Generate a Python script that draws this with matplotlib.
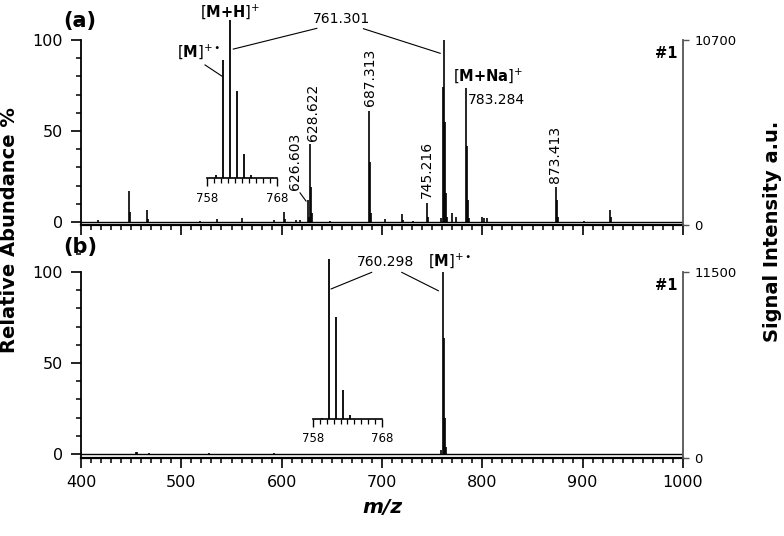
import matplotlib.pyplot as plt
from matplotlib.ticker import MultipleLocator

# ── spectrum (a): m/z and relative abundance ──────────────────────────────
mz_a = [417.3, 448.2, 449.2, 466.1, 467.1, 518.6, 535.3, 560.2, 592.4,
        602.4, 603.4, 614.4, 618.4, 626.6, 627.6, 628.6, 629.6, 630.6,
        648.0, 687.3, 688.3, 689.3, 703.1, 719.7, 720.7, 731.0, 745.2,
        746.2, 759.3, 760.3, 761.3, 762.3, 763.3, 764.3, 769.6, 773.9,
        783.3, 784.3, 785.3, 786.3, 799.5, 801.8, 805.1, 873.4, 874.4,
        875.4, 901.5, 927.4, 928.4]
ab_a = [1.0, 17.2, 5.7, 6.6, 1.5, 0.5, 1.6, 2.2, 1.3,
        5.5, 1.5, 1.0, 1.0, 12.0, 3.0, 43.0, 19.4, 5.0,
        0.5, 61.0, 33.0, 5.0, 1.5, 4.4, 1.0, 0.8, 10.3,
        3.0, 2.0, 74.4, 100.0, 55.0, 16.0, 3.0, 5.0, 3.0,
        73.4, 42.0, 12.0, 2.0, 3.0, 2.0, 2.0, 19.0, 12.0,
        3.0, 0.5, 6.6, 3.0]

# ── spectrum (b) ──────────────────────────────────────────────────────────
mz_b = [455.0, 456.0, 468.0, 528.0, 592.4, 759.3, 760.3, 761.3, 762.3, 763.3]
ab_b = [1.2, 1.0, 0.6, 0.5, 0.8, 2.0, 100.0, 64.0, 20.0, 4.0]

# ── isotope clusters shown in the insets ──────────────────────────────────
iso_mz_a = [759.3, 760.3, 761.3, 762.3, 763.3, 764.3]
iso_ab_a = [2.0, 74.5, 100.0, 55.0, 15.0, 2.0]
iso_mz_b = [759.3, 760.3, 761.3, 762.3, 763.3]
iso_ab_b = [0.5, 100.0, 64.0, 18.0, 2.5]

full_scale = [10700, 11500]

W, H = 784, 536
fig = plt.figure(figsize=(W / 100, H / 100), dpi=100)


def rect(x0, x1, ytop, ybot):
    return [x0 / W, 1 - ybot / H, (x1 - x0) / W, (ybot - ytop) / H]


def setup_panel(ax, ylo, yhi, scale, show_xlabels):
    ax.set_xlim(400, 1000)
    ax.set_ylim(ylo, yhi)
    ax.patch.set_visible(False)
    for s in ['top', 'right']:
        ax.spines[s].set_visible(False)
    ax.spines['left'].set_bounds(ylo, 100)
    ax.spines['left'].set_linewidth(1.3)
    ax.spines['bottom'].set_linewidth(1.6)
    ax.set_yticks([0, 50, 100])
    ax.yaxis.set_minor_locator(MultipleLocator(10))
    ax.xaxis.set_major_locator(MultipleLocator(100))
    ax.xaxis.set_minor_locator(MultipleLocator(10))
    ax.tick_params(which='major', direction='out', length=7, width=1.2,
                   labelsize=11.5, pad=5)
    ax.tick_params(which='minor', direction='out', length=3.5, width=1.1)
    ax.tick_params(axis='y', which='major', pad=6)
    if not show_xlabels:
        ax.tick_params(axis='x', labelbottom=False)

    # right axis with absolute signal intensity
    axr = ax.twinx()
    axr.set_ylim(0, scale * (yhi - ylo) / (100 - ylo))
    for s in ['top', 'left', 'bottom']:
        axr.spines[s].set_visible(False)
    axr.spines['right'].set_bounds(0, scale)
    axr.spines['right'].set_color('#555555')
    axr.spines['right'].set_linewidth(1.3)
    axr.set_yticks([0, scale])
    axr.tick_params(direction='out', length=4, width=1.0, color='#555555',
                    labelsize=9.5, pad=4)


def inset(ax, x0, y0, w, h, mz, ab):
    ins = ax.inset_axes([x0, y0, w, h], transform=ax.transData)
    ins.set_xlim(758, 768)
    ins.set_ylim(0, 100)
    ins.patch.set_visible(False)
    for s in ['top', 'right', 'left']:
        ins.spines[s].set_visible(False)
    ins.spines['bottom'].set_linewidth(1.2)
    ins.set_yticks([])
    ins.set_xticks([758, 768])
    ins.xaxis.set_minor_locator(MultipleLocator(1))
    ins.tick_params(which='major', direction='out', length=6, width=1.0,
                    labelsize=8.5, pad=4)
    ins.tick_params(which='minor', direction='out', length=3.5, width=0.9)
    ins.vlines(mz, 0, ab, color='black', lw=1.3, clip_on=False)
    return ins


# ── panel (a) ─────────────────────────────────────────────────────────────
ylo_a, yhi_a = -1.8, 115
ax_a = fig.add_axes(rect(81, 683, 40 - 15 * 1.82, 222 + 1.8 * 1.82))
setup_panel(ax_a, ylo_a, yhi_a, full_scale[0], False)
ax_a.plot([400, 1000], [0, 0], color='black', lw=1.0)
ax_a.vlines(mz_a, 0, ab_a, color='black', lw=1.2)
inset(ax_a, 525.9, 24.2, 69.8, 86.8, iso_mz_a, iso_ab_a)

fs = 10
for txt, x, y in [('626.603', 613.4, 17.6), ('628.622', 631.6, 44.5),
                  ('687.313', 688.0, 63.5), ('745.216', 744.6, 13.0),
                  ('873.413', 872.6, 21.6)]:
    ax_a.text(x, y, txt, rotation=90, ha='center', va='bottom', fontsize=fs)
ax_a.plot([618.3, 624.3], [16.0, 11.5], color='black', lw=0.8)
ax_a.text(785.2, 67, '783.284', ha='left', va='center', fontsize=fs)
ax_a.text(770.5, 80.5, r'[$\mathbf{M{+}Na}$]$^{+}$', ha='left', va='center',
          fontsize=10.5)
ax_a.text(659.9, 111.5, '761.301', ha='center', va='center', fontsize=fs)
ax_a.plot([635, 551.8], [106.4, 95], color='black', lw=0.8, clip_on=False)
ax_a.plot([681.5, 758], [106.2, 92.7], color='black', lw=0.8, clip_on=False)
ax_a.text(548.6, 115.4, r'[$\mathbf{M{+}H}$]$^{+}$', ha='center',
          va='center', fontsize=10.5)
ax_a.text(517, 93.4, r'[$\mathbf{M}$]$^{+\bullet}$', ha='center',
          va='center', fontsize=10.5)
ax_a.plot([523.6, 540.3], [86.3, 80.2], color='black', lw=0.8)

# ── panel (b) ─────────────────────────────────────────────────────────────
ylo_b, yhi_b = -2.2, 115
ax_b = fig.add_axes(rect(81, 683, 272 - 15 * 1.82, 454 + 2.2 * 1.82))
setup_panel(ax_b, ylo_b, yhi_b, full_scale[1], True)
ax_b.plot([400, 1000], [0, 0], color='black', lw=1.0)
ax_b.vlines(mz_b, 0, ab_b, color='black', lw=1.2)
inset(ax_b, 631.0, 19.5, 69.1, 87.5, iso_mz_b, iso_ab_b)

ax_b.text(703.1, 105.7, '760.298', ha='center', va='center', fontsize=fs)
ax_b.plot([689.7, 649.3], [99.8, 90.7], color='black', lw=0.8)
ax_b.plot([719.7, 756.2], [99.8, 89.7], color='black', lw=0.8)
ax_b.text(746, 106.5, r'[$\mathbf{M}$]$^{+\bullet}$', ha='left',
          va='center', fontsize=10.5)

ax_b.set_xlabel('m/z', fontsize=14.5, fontweight='bold', fontstyle='italic',
                labelpad=6)

# ── panel tags and axis titles ────────────────────────────────────────────
fig.text(63 / W, 1 - 21 / H, '(a)', fontsize=15, fontweight='bold',
         ha='left', va='center')
fig.text(63 / W, 1 - 247 / H, '(b)', fontsize=15, fontweight='bold',
         ha='left', va='center')
fig.text(678 / W, 1 - 53 / H, '#1', fontsize=10.5, fontweight='bold',
         ha='right', va='center')
fig.text(678 / W, 1 - 285 / H, '#1', fontsize=10.5, fontweight='bold',
         ha='right', va='center')
fig.text(10 / W, 1 - 230 / H, 'Relative Abundance %', rotation=90,
         fontsize=14, fontweight='bold', ha='center', va='center')
fig.text(772 / W, 1 - 231 / H, 'Signal Intensity a.u.', rotation=90,
         fontsize=14, fontweight='bold', ha='center', va='center')

fig.savefig('out.png', dpi=100)
